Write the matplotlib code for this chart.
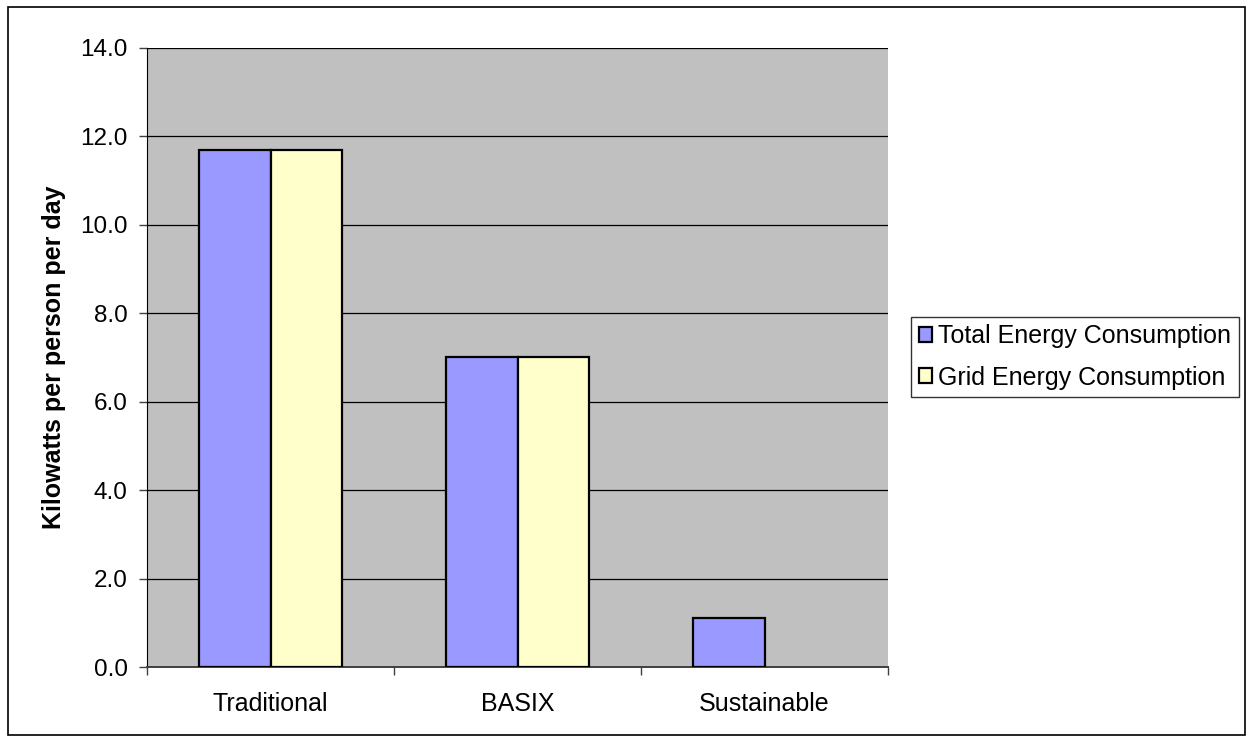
import numpy as np
import matplotlib.pyplot as plt
from matplotlib.patches import Rectangle

plt.rcParams['font.family'] = ['Liberation Sans', 'DejaVu Sans']

# Energy use per scenario, kW per person per day
categories = ['Traditional', 'BASIX', 'Sustainable']
total_energy = [11.7, 7.0, 1.1]
grid_energy = [11.7, 7.0, 0.0]
series_names = ['Total Energy Consumption', 'Grid Energy Consumption']

fig = plt.figure(figsize=(12.53, 7.42), dpi=100)
ax = fig.add_axes([147 / 1253, 1 - 667 / 742, 741 / 1253, 619 / 742])
ax.set_facecolor('#C0C0C0')

x = np.arange(len(categories))
w = 0.29
ax.bar(x - w / 2, total_energy, w, color='#9999FF', edgecolor='black',
       linewidth=[1.6 if v > 0 else 0 for v in total_energy],
       label=series_names[0], zorder=3)
ax.bar(x + w / 2, grid_energy, w, color='#FFFFCC', edgecolor='black',
       linewidth=[1.6 if v > 0 else 0 for v in grid_energy],
       label=series_names[1], zorder=3)

ax.set_xlim(-0.5, len(categories) - 0.5)
ax.set_ylim(0, 14)
ax.set_yticks(np.arange(0, 14.1, 2))
ax.set_yticklabels([f'{v:.1f}' for v in np.arange(0, 14.1, 2)])
ax.yaxis.grid(True, color='black', linewidth=0.9, zorder=1)
ax.set_axisbelow(True)

# category labels centred, ticks on the boundaries
ax.set_xticks(x)
ax.set_xticklabels(categories)
ax.set_xticks(np.arange(-0.5, len(categories), 1), minor=True)
ax.tick_params(axis='x', which='major', length=0, pad=18, labelsize=18)
ax.tick_params(axis='x', which='minor', length=6, width=1, color='#404040')
ax.tick_params(axis='y', length=6, width=1, color='#404040', pad=8, labelsize=17.5)

for side in ['top', 'right']:
    ax.spines[side].set_visible(False)
ax.spines['left'].set_color('black')
ax.spines['bottom'].set_color('#404040')
ax.spines['bottom'].set_linewidth(1.4)

ax.set_ylabel('Kilowatts per person per day', fontsize=18, fontweight='bold', labelpad=10)

leg = ax.legend(loc='center left', bbox_to_anchor=(911 / 1253, 1 - 357 / 742),
                bbox_transform=fig.transFigure, fontsize=18, frameon=True,
                fancybox=False, edgecolor='black', handlelength=0.55,
                handleheight=0.55, handletextpad=0.25, borderpad=0.3,
                labelspacing=0.7, borderaxespad=0)
leg.get_frame().set_linewidth(1.0)

# outer chart border
fig.patches.append(Rectangle((8 / 1253, 7 / 742), 1237 / 1253, 728 / 742,
                             transform=fig.transFigure, fill=False,
                             edgecolor='black', linewidth=1.2))

fig.savefig('out.png', dpi=100)
